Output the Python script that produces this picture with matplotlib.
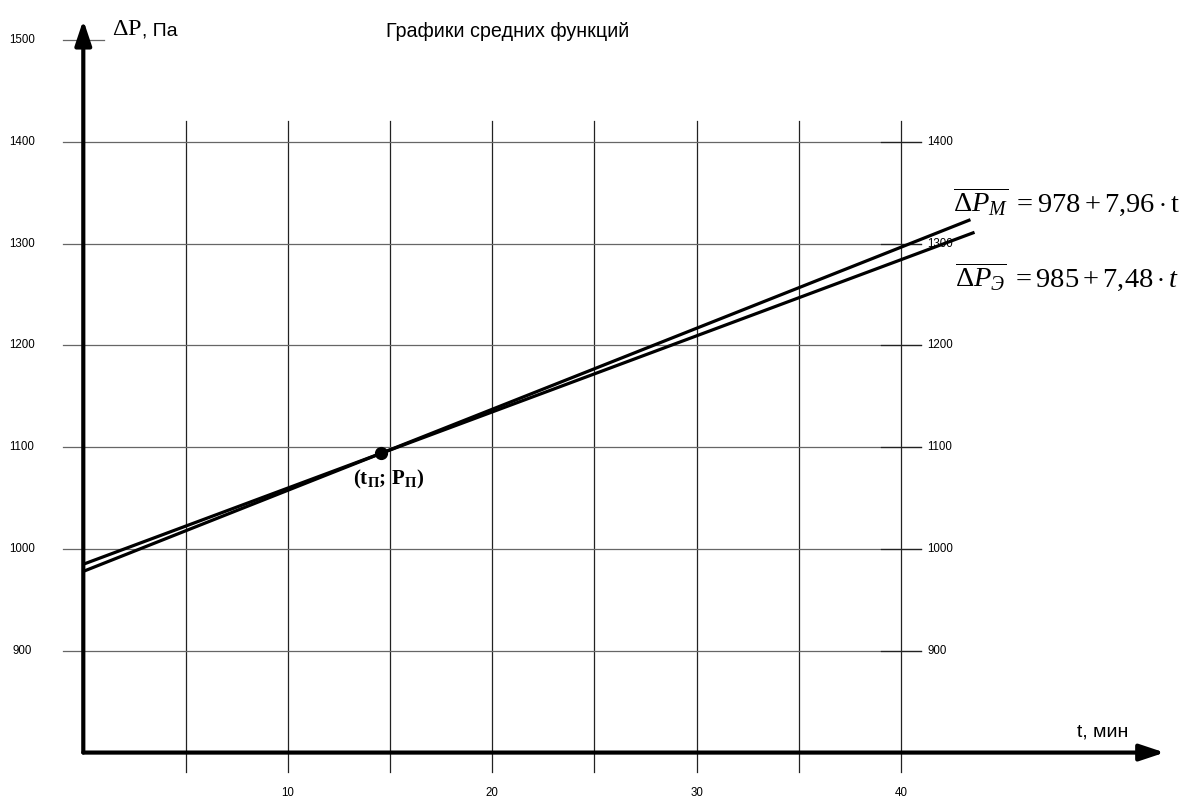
import matplotlib
matplotlib.use("Agg")
import matplotlib.pyplot as plt

plt.rcParams["font.family"] = ["Liberation Sans", "DejaVu Sans"]
plt.rcParams["mathtext.fontset"] = "custom"
plt.rcParams["mathtext.rm"] = "Liberation Serif"
plt.rcParams["mathtext.it"] = "Liberation Serif:italic"
plt.rcParams["mathtext.bf"] = "Liberation Serif:bold"

# --- data ---
t_grid = [5, 10, 15, 20, 25, 30, 35, 40]
t_labels = [10, 20, 30, 40]
p_grid = [900, 1000, 1100, 1200, 1300, 1400]
p_left_labels = [900, 1000, 1100, 1200, 1300, 1400, 1500]
p_right_labels = [900, 1000, 1100, 1200, 1300, 1400]

# ΔP_M = 978 + 7,96 t   and   ΔP_Э = 985 + 7,48 t
t_m = [0, 43.4]
p_m = [978, 1323.5]
t_e = [0, 43.6]
p_e = [985, 1311.1]

t_cross = [14.58]
p_cross = [1094.1]

title = "Графики средних функций"
eq_m = r"$\overline{\Delta P_{\mathit{М}}}\ = 978 + 7{,}96\cdot\mathrm{t}$"
eq_e = r"$\overline{\Delta P_{\mathit{Э}}}\ = 985 + 7{,}48\cdot t$"
point_label = r"$\mathbf{(t_{П};\,P_{П})}$"

# frame: pixel <-> data mapping of the original drawing
T0, T1 = -4.075, 53.70
P0, P1 = 753.4, 1539.3
P_AXIS = 800
T_TIP, P_TIP = 52.9, 1519.6

fig = plt.figure(figsize=(11.81, 8), dpi=100)
ax = fig.add_axes([0, 0, 1, 1])
ax.set_xlim(T0, T1)
ax.set_ylim(P0, P1)
ax.axis("off")

# grid
for t in t_grid:
    ax.plot([t, t], [781, 1420.5], color="#222222", lw=0.9, zorder=1)
for p in p_grid:
    ax.plot([-1, 41], [p, p], color="#666666", lw=0.9, zorder=1)
    ax.plot([39, 41], [p, p], color="#222222", lw=0.9, zorder=1)
ax.plot([-1, 1], [1500, 1500], color="#666666", lw=0.9, zorder=1)

# tick labels
for p in p_left_labels:
    ax.text(-3.0, p, str(p), fontsize=8.3, ha="center", va="center")
for p in p_right_labels:
    ax.text(41.3, p, str(p), fontsize=8.3, ha="left", va="center")
for t in t_labels:
    ax.text(t, 760.3, str(t), fontsize=8.3, ha="center", va="center")

# axes with arrows
arrow = dict(arrowstyle="-|>,head_length=0.75,head_width=0.25",
             mutation_scale=20, lw=3, color="black",
             shrinkA=0, shrinkB=0)
ax.annotate("", xy=(0, P_TIP), xytext=(0, P_AXIS), arrowprops=arrow, zorder=4)
ax.annotate("", xy=(T_TIP, P_AXIS), xytext=(0, P_AXIS), arrowprops=arrow, zorder=4)

# lines
ax.plot(t_m, p_m, color="black", lw=2.3, solid_capstyle="butt", zorder=3)
ax.plot(t_e, p_e, color="black", lw=2.3, solid_capstyle="butt", zorder=3)
ax.plot(t_cross, p_cross, "o", color="black", markersize=8.5, zorder=5)

# texts
ax.text(20.75, 1502.9, title, fontsize=14.2, ha="center", va="baseline")
ax.text(1.42, 1504.9, r"$\mathrm{\Delta P}$", fontsize=17.5,
        ha="left", va="baseline")
ax.text(2.88, 1504.9, ", Па", fontsize=14, ha="left", va="baseline")
ax.text(48.62, 815.3, "t, мин", fontsize=14, ha="left", va="baseline")
ax.text(42.55, 1331, eq_m, fontsize=20.5, ha="left", va="baseline")
ax.text(42.65, 1257.4, eq_e, fontsize=20.5, ha="left", va="baseline")
ax.text(14.96, 1062.9, point_label, fontsize=15, ha="center", va="baseline")

fig.savefig("out.png", dpi=100)
